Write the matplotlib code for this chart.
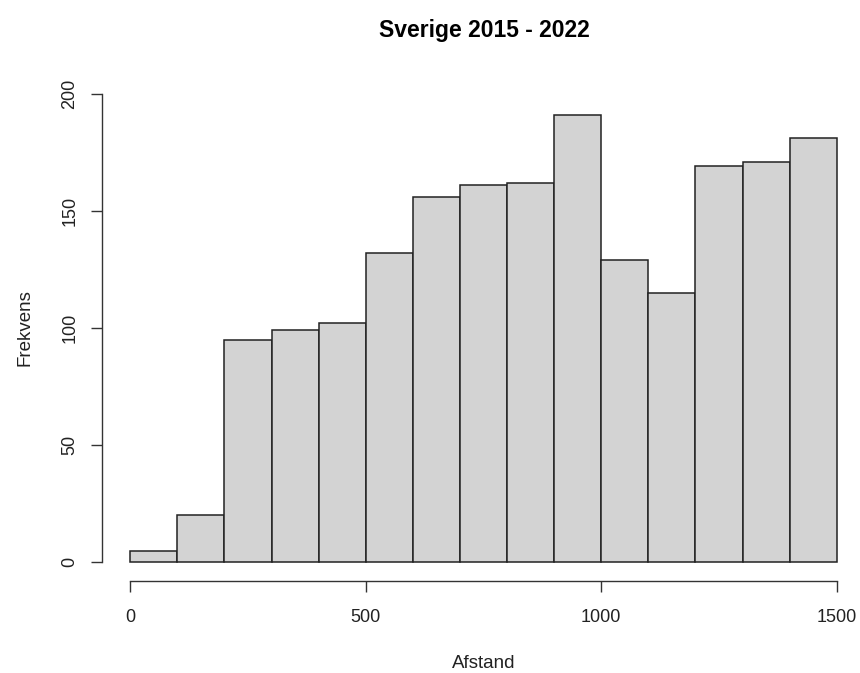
import numpy as np
import matplotlib
matplotlib.use('Agg')
import matplotlib.pyplot as plt

plt.rcParams['font.family'] = ['Liberation Sans', 'DejaVu Sans']

# histogram bins (Afstand) and counts (Frekvens)
bin_edges = [0, 100, 200, 300, 400, 500, 600, 700, 800, 900, 1000, 1100, 1200, 1300, 1400, 1500]
counts = [5, 20, 95, 99, 102, 132, 156, 161, 162, 191, 129, 115, 169, 171, 181]
x_ticks = [0, 500, 1000, 1500]
y_ticks = [0, 50, 100, 150, 200]

fig = plt.figure(figsize=(8.6, 6.73), dpi=100)
W, H = 860, 673
# axes in pixel terms: left 102, right 865, top 75, bottom 581
ax = fig.add_axes([102 / W, (H - 581) / H, 763 / W, (581 - 75) / H])

edges = np.array(bin_edges)
ax.bar(edges[:-1], counts, width=np.diff(edges), align='edge',
       facecolor='#d3d3d3', edgecolor='#222222', linewidth=1.1)

ax.set_xlim(-60, 1560)
ax.set_ylim(-8, 208)

for s in ['top', 'right']:
    ax.spines[s].set_visible(False)
ax.spines['left'].set_bounds(0, 200)
ax.spines['bottom'].set_bounds(0, 1500)
for s in ['left', 'bottom']:
    ax.spines[s].set_color('#333333')
    ax.spines[s].set_linewidth(1.0)

ax.set_xticks(x_ticks)
ax.set_yticks(y_ticks)
ax.tick_params(axis='both', length=8, width=1.0, color='#333333',
               labelsize=13, labelcolor='#222222')
ax.tick_params(axis='x', pad=12)
ax.tick_params(axis='y', pad=9)
for lab in ax.get_yticklabels():
    lab.set_rotation(90)
    lab.set_va('center')

ax.set_xlabel('Afstand', fontsize=13.5, color='#222222', labelpad=21)
ax.set_ylabel('Frekvens', fontsize=13.5, color='#222222', labelpad=20)
fig.text(484 / W, 1 - 30 / H, 'Sverige 2015 - 2022', ha='center', va='center',
         fontsize=16.5, fontweight='bold')

fig.savefig('out.png', dpi=100)
